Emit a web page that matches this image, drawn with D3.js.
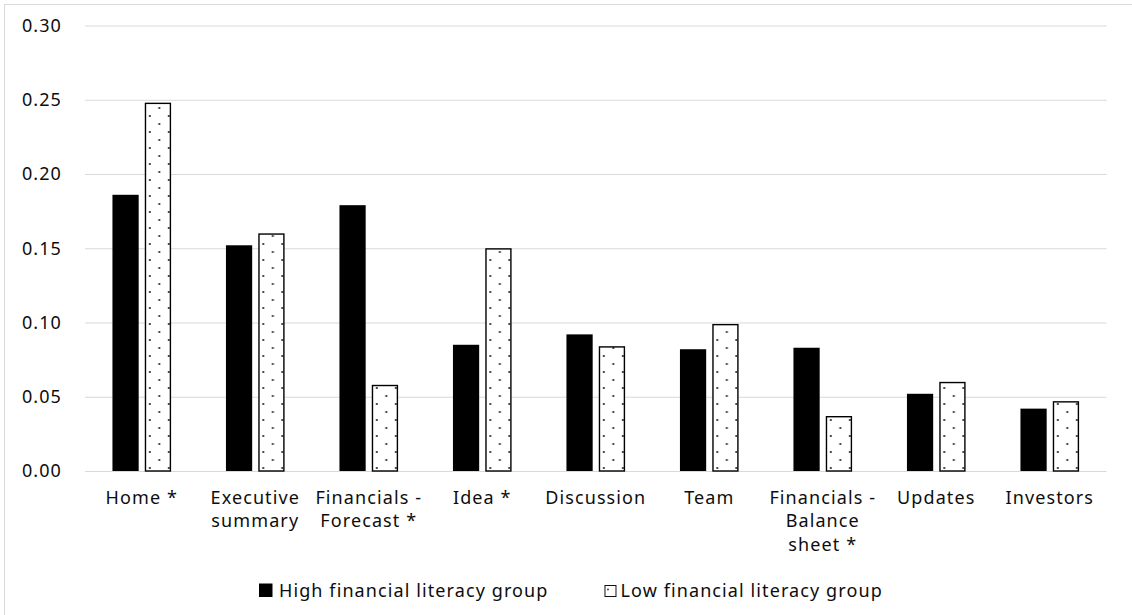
<!DOCTYPE html>
<html>
<head>
<meta charset="utf-8">
<script src="https://cdn.jsdelivr.net/npm/d3@7"></script>
<style>
  body { margin: 0; background: #fff; }
  text { font-family: "Noto Sans", "Open Sans", sans-serif; fill: #0d0d0d; }
</style>
</head>
<body>
<div id="chart"></div>
<script>
// Data
var categories = ["Home *", "Executive\nsummary", "Financials -\nForecast *", "Idea *",
                  "Discussion", "Team", "Financials -\nBalance\nsheet *", "Updates", "Investors"];
var seriesNames = ["High financial literacy group", "Low financial literacy group"];
var highValues = [0.186, 0.152, 0.179, 0.085, 0.092, 0.082, 0.083, 0.052, 0.042];
var lowValues  = [0.248, 0.160, 0.058, 0.150, 0.084, 0.099, 0.037, 0.060, 0.047];
var yTicks = [0, 0.05, 0.10, 0.15, 0.20, 0.25, 0.30];

function renderChart() {
  var width = 1132, height = 615;
  var fontSize = 18, spacing = 1.1;
  var svg = d3.select('#chart').append('svg')
              .attr('width', width)
              .attr('height', height);

  // dotted fill used by the low group
  var defs = svg.append('defs');
  var pat = defs.append('pattern')
                .attr('id', 'dots')
                .attr('patternUnits', 'userSpaceOnUse')
                .attr('width', 19)
                .attr('height', 16);
  pat.append('rect').attr('width', 19).attr('height', 16).attr('fill', '#fff');
  pat.append('circle').attr('cx', 5).attr('cy', 4).attr('r', 1.1).attr('fill', '#222');
  pat.append('circle').attr('cx', 14.5).attr('cy', 12).attr('r', 1.1).attr('fill', '#222');

  // outer border
  svg.append('rect')
     .attr('x', 4.5).attr('y', 4.5)
     .attr('width', 1130).attr('height', 612)
     .attr('fill', 'none')
     .attr('stroke', '#d9d9d9');

  // Scales
  var x0 = d3.scaleBand()
             .domain(categories)
             .range([85, 1106.5]);
  var groupW = 58.6;
  var x1 = d3.scaleBand()
             .domain(seriesNames)
             .range([x0.bandwidth() / 2 - groupW / 2, x0.bandwidth() / 2 + groupW / 2])
             .paddingInner(0.19);
  var y = d3.scaleLinear()
            .domain([0, 0.30])
            .range([471, 25.5]);

  // Gridlines + y labels
  var yAxis = d3.axisLeft(y)
                .tickValues(yTicks)
                .tickSize(-(1106.5 - 85))
                .tickPadding(23)
                .tickFormat(d3.format('.2f'));
  var ga = svg.append('g')
              .attr('transform', 'translate(85,0)')
              .call(yAxis);
  ga.select('.domain').remove();
  ga.selectAll('.tick line').attr('stroke', '#d9d9d9').attr('stroke-width', 1.2);
  ga.selectAll('.tick text')
    .attr('font-size', fontSize)
    .attr('letter-spacing', spacing)
    .attr('fill', '#0d0d0d')
    .style('font-family', '"Noto Sans", sans-serif');

  var rows = categories.map(function(c, i) {
    return { cat: c, high: highValues[i], low: lowValues[i] };
  });

  // High bars
  svg.append('g').selectAll('rect')
     .data(rows)
     .enter()
     .append('rect')
     .attr('x', function(d) { return x0(d.cat) + x1(seriesNames[0]); })
     .attr('y', function(d) { return y(d.high); })
     .attr('width', x1.bandwidth())
     .attr('height', function(d) { return y(0) - y(d.high); })
     .attr('fill', '#000');

  // Low bars (each in its own group so the dots line up with the bar edge)
  var lowG = svg.append('g').selectAll('g')
     .data(rows)
     .enter()
     .append('g')
     .attr('transform', function(d) {
       return 'translate(' + (x0(d.cat) + x1(seriesNames[1])) + ',0)';
     });
  lowG.append('rect')
      .attr('x', 0.65)
      .attr('y', function(d) { return y(d.low) + 0.65; })
      .attr('width', x1.bandwidth() - 1.3)
      .attr('height', function(d) { return y(0) - y(d.low) - 0.65; })
      .attr('fill', 'url(#dots)')
      .attr('stroke', '#000')
      .attr('stroke-width', 1.4);

  // Category labels
  var lab = svg.append('g').selectAll('text')
     .data(categories)
     .enter()
     .append('text')
     .attr('text-anchor', 'middle')
     .attr('font-size', fontSize)
     .attr('letter-spacing', spacing)
     .attr('transform', function(d) {
       return 'translate(' + (x0(d) + x0.bandwidth() / 2) + ',503.5)';
     });
  lab.selectAll('tspan')
     .data(function(d) { return d.split('\n'); })
     .enter()
     .append('tspan')
     .attr('x', 0)
     .attr('y', function(d, i) { return i * 23.8; })
     .text(function(d) { return d; });

  // Legend
  var leg = svg.append('g');
  var lx = 259;
  seriesNames.forEach(function(name, i) {
    var item = leg.append('g').attr('transform', 'translate(' + lx + ',0)');
    if (i === 0) {
      item.append('rect').attr('x', 0).attr('y', 583.5).attr('width', 13.5).attr('height', 13.5)
          .attr('fill', '#000');
    } else {
      item.append('rect').attr('x', 0.5).attr('y', 585.5).attr('width', 11).attr('height', 11)
          .attr('fill', '#fff').attr('stroke', '#111').attr('stroke-width', 1);
      item.append('circle').attr('cx', 3.5).attr('cy', 589.5).attr('r', 0.9).attr('fill', '#333');
    }
    var t = item.append('text')
                .attr('x', i === 0 ? 20 : 16)
                .attr('y', 596.5)
                .attr('font-size', fontSize)
                .attr('letter-spacing', spacing)
                .text(name);
    lx += (i === 0 ? 20 : 16) + t.node().getComputedTextLength() + 56;
  });
}

renderChart();
</script>
</body>
</html>
